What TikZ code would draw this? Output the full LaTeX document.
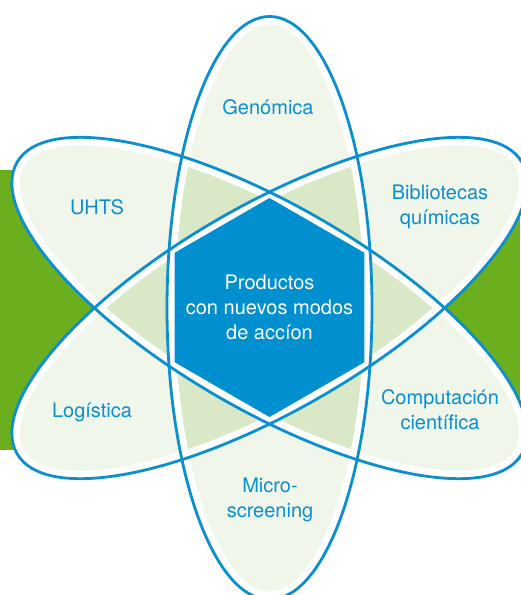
\documentclass[tikz,border=0pt]{standalone}
\usepackage{fontspec}
\setmainfont{TeX Gyre Heros}
\usetikzlibrary{calc}
\definecolor{petalblue}{HTML}{0A8FD0}
\definecolor{hexblue}{HTML}{0090D0}
\definecolor{lightleaf}{HTML}{F1F6EA}
\definecolor{darkleaf}{HTML}{D9E8C6}
\definecolor{bandgreen}{HTML}{6BAF1E}
\newcommand{\petal}[1]{[rotate around={#1:(269.5,308)}] (269.5,308) ellipse (102.5 and 291.5)}

\begin{document}
\begin{tikzpicture}[x=1pt,y=-1pt,
    lbl/.style={text=petalblue, align=center, font=\fontsize{20}{25}\selectfont},
    hexfill/.style={fill=hexblue}]
  \useasboundingbox (0,0) rectangle (520,595);
  \fill[bandgreen] (0,170) rectangle (520,450);

  % petals
  \foreach \a in {0,60,-60} {
    \fill[lightleaf] \petal{\a};
  }
  \foreach \a/\b in {0/60, 0/-60, 60/-60} {
    \begin{scope}
      \clip \petal{\a};
      \fill[darkleaf] \petal{\b};
    \end{scope}
  }
  \foreach \a in {0,60,-60} {
    \begin{scope}
      \clip \petal{\a};
      \draw[white, line width=16pt] \petal{\a};
    \end{scope}
  }
  \foreach \a in {0,60,-60} {
    \draw[petalblue, line width=2.8pt] \petal{\a};
  }

  % hub
  \coordinate (c) at (269.5,307.5);
  \fill[hexfill] (c) +(30:109.5) -- +(90:109.5) -- +(150:109.5) -- +(210:109.5)
    -- +(270:109.5) -- +(330:109.5) -- cycle;
  \node (hub) [lbl, text=white] at (c) {Productos\\con nuevos modos\\de accíon};

  \node (genomica) [lbl] at (268,107) {Genómica};
  \node (uhts) [lbl] at (97,207) {UHTS};
  \node (biblio) [lbl] at (440,207) {Bibliotecas\\químicas};
  \node (logistica) [lbl] at (92,412) {Logística};
  \node (computacion) [lbl] at (440,410) {Computación\\científica};
  \node (micro) [lbl] at (270,500) {Micro-\\screening};
\end{tikzpicture}
\end{document}
